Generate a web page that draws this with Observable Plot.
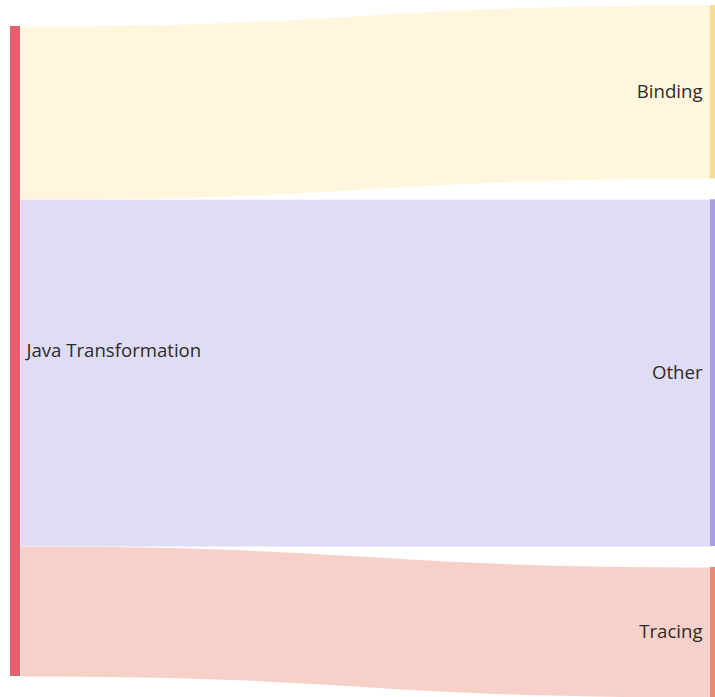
<!DOCTYPE html>
<html>
<head>
<meta charset="utf-8">
<script src="https://cdn.jsdelivr.net/npm/d3@7"></script>
<script src="https://cdn.jsdelivr.net/npm/@observablehq/plot@0.6"></script>
<style>
  html, body { margin: 0; padding: 0; background: #fff; }
  #chart svg { display: block; }
</style>
</head>
<body>
<div id="chart"></div>
<script>
// ---- data ----
const nodeNames = ["Java Transformation", "Binding", "Other", "Tracing"];
const linkSources = ["Java Transformation", "Java Transformation", "Java Transformation"];
const linkTargets = ["Binding", "Other", "Tracing"];
const linkValues = [4, 8, 3];

// ---- styles ----
const nodeColors = {"Java Transformation": "#e8606f", "Binding": "#f7dc98", "Other": "#a99ee4", "Tracing": "#ee8a74"};
const linkColors = {"Binding": "#fff6dd", "Other": "#dfdcf5", "Tracing": "#f7d1c9"};

// ---- minimal sankey layout ----
const W = 715, H = 697;
const extent = {x0: 10, x1: 720, y0: 5, y1: 697};
const nodeWidth = 10, nodePadding = 21;

const nodes = nodeNames.map(name => ({name, inLinks: [], outLinks: []}));
const byName = new Map(nodes.map(n => [n.name, n]));
const links = linkValues.map((v, i) => ({source: byName.get(linkSources[i]), target: byName.get(linkTargets[i]), value: v}));
links.forEach(l => { l.source.outLinks.push(l); l.target.inLinks.push(l); });
nodes.forEach(n => {
  n.value = Math.max(d3.sum(n.inLinks, l => l.value), d3.sum(n.outLinks, l => l.value));
  n.depth = n.inLinks.length ? 1 : 0;
});
const columns = d3.groups(nodes, n => n.depth).sort((a, b) => a[0] - b[0]).map(d => d[1]);
const ky = d3.min(columns, c => (extent.y1 - extent.y0 - (c.length - 1) * nodePadding) / d3.sum(c, n => n.value));
const kx = (extent.x1 - extent.x0 - nodeWidth) / (columns.length - 1);
columns.forEach((col, ci) => {
  col.forEach(n => { n.x0 = extent.x0 + ci * kx; n.x1 = n.x0 + nodeWidth; });
});
const last = columns[columns.length - 1];
let yy = extent.y0;
last.forEach(n => { n.y0 = yy; n.y1 = yy + n.value * ky; yy = n.y1 + nodePadding; });
// sources centred on their targets
columns[0].forEach(n => {
  const centre = (d3.min(n.outLinks, l => l.target.y0) + d3.max(n.outLinks, l => l.target.y1)) / 2;
  n.y0 = centre - n.value * ky / 2; n.y1 = n.y0 + n.value * ky;
});
nodes.forEach(n => {
  let a = n.y0; n.outLinks.forEach(l => { l.width = l.value * ky; l.ys = a + l.width / 2; a += l.width; });
  let b = n.y0; n.inLinks.forEach(l => { l.yt = b + l.width / 2; b += l.width; });
});

const sourceNodes = nodes.filter(n => n.depth === 0);
const targetNodes = nodes.filter(n => n.depth > 0);

const chart = Plot.plot({
  width: W,
  height: H,
  margin: 0,
  x: {type: "identity", axis: null},
  y: {type: "identity", axis: null},
  style: {fontFamily: "'Open Sans', 'Noto Sans', sans-serif", background: "#fff"},
  marks: [
    Plot.link(links, {
      x1: d => d.source.x1, y1: d => d.ys,
      x2: d => d.target.x0, y2: d => d.yt,
      curve: "bump-x",
      stroke: d => linkColors[d.target.name],
      strokeWidth: d => d.width,
      strokeOpacity: 1
    }),
    Plot.rect(nodes, {
      x1: d => d.x0, x2: d => d.x1, y1: d => d.y0, y2: d => d.y1,
      fill: d => nodeColors[d.name]
    }),
    Plot.text(sourceNodes, {
      x: d => d.x1 + 6,
      y: d => (d.y0 + d.y1) / 2,
      text: "name",
      textAnchor: "start",
      fill: "#2b2b2b",
      fontSize: 18.6
    }),
    Plot.text(targetNodes, {
      x: d => d.x0 - 8,
      y: d => (d.y0 + d.y1) / 2,
      text: "name",
      textAnchor: "end",
      fill: "#2b2b2b",
      fontSize: 18.6
    })
  ]
});
document.getElementById("chart").appendChild(chart);
</script>
</body>
</html>
